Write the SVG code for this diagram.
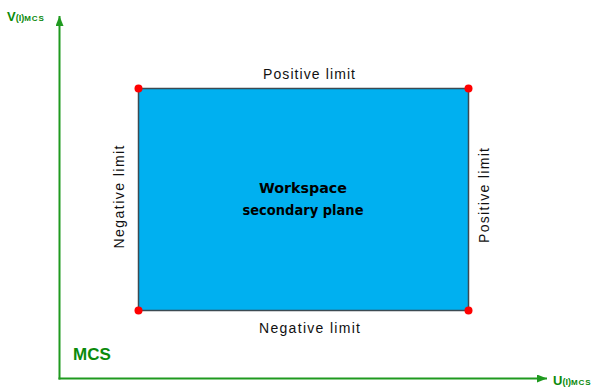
<svg xmlns="http://www.w3.org/2000/svg" width="597" height="389" viewBox="0 0 597 389">
<style>
.ax{stroke:#1f9a1f;stroke-width:2;fill:none}
.axl{fill:#0b8a0b;font-family:"Liberation Sans",Arial,sans-serif;font-weight:bold}
.lim{fill:#111;font-family:"Liberation Sans",Arial,sans-serif;font-size:14px}
.ctr{fill:#000;font-family:"DejaVu Sans","Liberation Sans",sans-serif;font-weight:bold;font-size:14px}
.dot{fill:#ff0000}
</style>
<defs>
<marker id="ah" viewBox="0 0 10 8" refX="10" refY="4" markerWidth="10" markerHeight="8" markerUnits="userSpaceOnUse" orient="auto">
<path d="M0,0 L10,4 L0,8 Z" fill="#1f9a1f"/>
</marker>
</defs>
<g id="connectors">
<line class="ax" x1="59.5" y1="379.5" x2="59.5" y2="16" marker-end="url(#ah)"/>
<line class="ax" x1="58.5" y1="378.5" x2="547" y2="378.5" marker-end="url(#ah)"/>
</g>
<g id="axis-v">
<text class="axl" x="7" y="21"><tspan font-size="13">V</tspan><tspan font-size="9">(I)</tspan><tspan font-size="8" letter-spacing="1">MCS</tspan></text>
</g>
<g id="axis-u">
<text class="axl" x="553" y="385"><tspan font-size="13">U</tspan><tspan font-size="9">(I)</tspan><tspan font-size="8" letter-spacing="1">MCS</tspan></text>
</g>
<g id="mcs">
<text class="axl" x="73" y="360" font-size="17">MCS</text>
</g>
<g id="workspace">
<rect x="138.5" y="88.5" width="330" height="222" fill="#00b0f0" stroke="#3c4a52" stroke-width="1.5"/>
<text class="ctr" x="303" y="193" text-anchor="middle" textLength="88" lengthAdjust="spacingAndGlyphs">Workspace</text>
<text class="ctr" x="303" y="215" text-anchor="middle" textLength="121" lengthAdjust="spacingAndGlyphs">secondary plane</text>
</g>
<g id="corners">
<circle class="dot" cx="138.5" cy="88.5" r="4"/>
<circle class="dot" cx="468.5" cy="88.5" r="4"/>
<circle class="dot" cx="138.5" cy="310.5" r="4"/>
<circle class="dot" cx="468.5" cy="310.5" r="4"/>
</g>
<g id="label-top">
<text class="lim" x="309" y="79" text-anchor="middle" textLength="92" lengthAdjust="spacing">Positive limit</text>
</g>
<g id="label-bottom">
<text class="lim" x="309.5" y="333" text-anchor="middle" textLength="101" lengthAdjust="spacing">Negative limit</text>
</g>
<g id="label-left">
<text class="lim" transform="translate(124,197) rotate(-90)" text-anchor="middle" textLength="103" lengthAdjust="spacing">Negative limit</text>
</g>
<g id="label-right">
<text class="lim" transform="translate(489,195.5) rotate(-90)" text-anchor="middle" textLength="95" lengthAdjust="spacing">Positive limit</text>
</g>
</svg>
